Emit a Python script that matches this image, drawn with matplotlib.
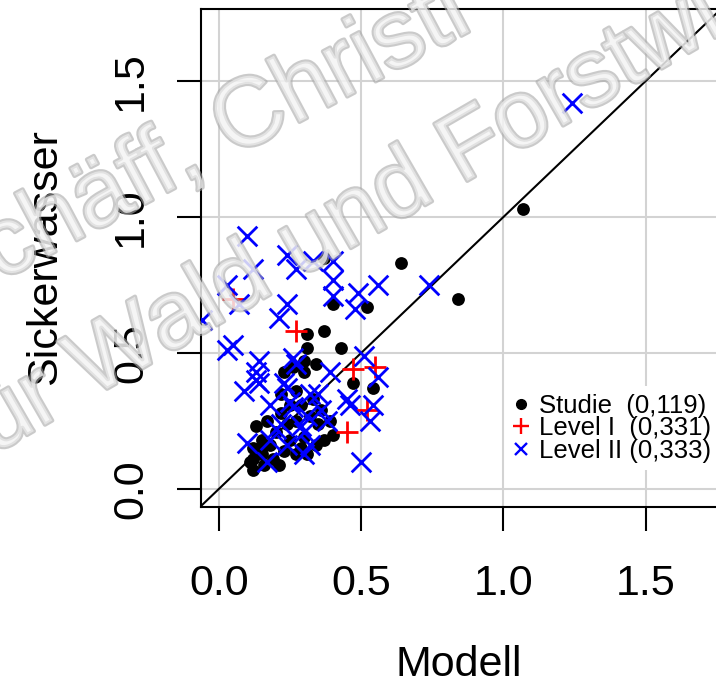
import matplotlib
matplotlib.use("Agg")
import matplotlib.pyplot as plt
import matplotlib.patheffects as pe
from matplotlib.lines import Line2D

plt.rcParams['font.family'] = ['Liberation Sans', 'DejaVu Sans']

# Studie
studie_x = [1.07, 0.64, 0.84, 0.37, 0.40, 0.52, 0.31, 0.37, 0.43, 0.31, 0.30, 0.34, 0.23,
            0.30, 0.26, 0.47, 0.54, 0.40, 0.13, 0.12, 0.12, 0.12, 0.22, 0.22, 0.20, 0.18,
            0.19, 0.24, 0.27, 0.25, 0.29, 0.31, 0.27, 0.30, 0.32, 0.35, 0.37, 0.34, 0.15,
            0.15, 0.23, 0.21, 0.16, 0.11, 0.36, 0.39, 0.29, 0.25, 0.33, 0.14, 0.17, 0.27]
studie_y = [1.03, 0.83, 0.70, 0.85, 0.68, 0.67, 0.57, 0.58, 0.52, 0.52, 0.47, 0.46, 0.43,
            0.43, 0.45, 0.39, 0.37, 0.20, 0.23, 0.15, 0.11, 0.07, 0.35, 0.28, 0.21, 0.16,
            0.11, 0.24, 0.25, 0.18, 0.15, 0.13, 0.13, 0.19, 0.27, 0.24, 0.18, 0.16, 0.13,
            0.18, 0.14, 0.09, 0.09, 0.10, 0.29, 0.25, 0.31, 0.31, 0.33, 0.14, 0.25, 0.36]

# Level I
lvl1_x = [0.05, 0.27, 0.47, 0.55, 0.52, 0.45]
lvl1_y = [0.70, 0.58, 0.44, 0.45, 0.29, 0.21]

# Level II
lvl2_x = [1.24, 0.74, -0.06, 0.10, 0.12, 0.03, 0.07, 0.05, 0.03, 0.14, 0.13, 0.13, 0.09,
          0.18, 0.10, 0.21, 0.24, 0.24, 0.27, 0.33, 0.40, 0.40, 0.40, 0.49, 0.48, 0.56,
          0.26, 0.27, 0.51, 0.23, 0.24, 0.14, 0.32, 0.35, 0.39, 0.56, 0.45, 0.46, 0.54,
          0.53, 0.38, 0.31, 0.22, 0.20, 0.17, 0.24, 0.30, 0.30, 0.50, 0.25, 0.29, 0.36,
          0.32, 0.18, 0.26]
lvl2_y = [1.42, 0.75, 0.62, 0.93, 0.81, 0.75, 0.68, 0.53, 0.51, 0.47, 0.43, 0.40, 0.36,
          0.31, 0.17, 0.63, 0.68, 0.86, 0.81, 0.84, 0.84, 0.77, 0.71, 0.72, 0.66, 0.75,
          0.48, 0.46, 0.49, 0.39, 0.37, 0.39, 0.35, 0.35, 0.43, 0.41, 0.33, 0.31, 0.31,
          0.25, 0.25, 0.27, 0.24, 0.22, 0.10, 0.16, 0.21, 0.13, 0.10, 0.32, 0.23, 0.29,
          0.16, 0.18, 0.30]

ticks = [0.0, 0.5, 1.0, 1.5]
tick_labels = ["0.0", "0.5", "1.0", "1.5"]
legend_labels = ["Studie  (0,119)", "Level I  (0,331)", "Level II (0,333)"]

W, H = 716, 685
fig = plt.figure(figsize=(W / 100, H / 100), dpi=100)
ax = fig.add_axes([201 / W, (H - 506.6) / H, 521 / W, 498.1 / H])
ax.set_xlim(-0.0626, 1.768)
ax.set_ylim(-0.0647, 1.7665)

ax.grid(True, color='#d3d3d3', lw=1.5, zorder=0)
ax.set_axisbelow(True)
ax.axline((0, 0), slope=1, color='black', lw=1.5, zorder=2)

ax.scatter(studie_x, studie_y, s=85, c='black', marker='o', lw=0, zorder=3)
ax.scatter(lvl1_x, lvl1_y, s=230, c='red', marker='+', lw=2, zorder=4)
ax.scatter(lvl2_x, lvl2_y, s=200, c='blue', marker='x', lw=2, zorder=5)

ax.set_xticks(ticks, tick_labels)
ax.set_yticks(ticks, tick_labels)
ax.tick_params(direction='out', length=17, width=1.5, labelsize=31)
ax.tick_params(axis='x', pad=24)
ax.tick_params(axis='y', pad=19)
for lbl in ax.get_yticklabels():
    lbl.set_rotation(90)
    lbl.set_va('center')
for sp in ax.spines.values():
    sp.set_linewidth(1.5)

ax.set_xlabel("Modell", fontsize=31)
ax.xaxis.set_label_coords((459 - 201) / 521, (506.6 - 665) / 498.1)
ax.xaxis.label.set_va('center')
ax.set_ylabel("Sickerwasser", fontsize=31)
ax.yaxis.set_label_coords((45 - 201) / 521, 0.5)
ax.yaxis.label.set_va('center')
ax.yaxis.label.set_ha('center')

handles = [
    Line2D([], [], ls='none', marker='o', color='black', markersize=7),
    Line2D([], [], ls='none', marker='+', color='red', markersize=11, mew=1.7),
    Line2D([], [], ls='none', marker='x', color='blue', markersize=8, mew=1.7),
]
leg = ax.legend(handles, legend_labels, loc='upper left',
                bbox_to_anchor=(505 / W, 1 - 386 / H), bbox_transform=fig.transFigure,
                fontsize=18.5, frameon=True, facecolor='white', edgecolor='none',
                framealpha=1, fancybox=False, borderaxespad=0, borderpad=0.3,
                handlelength=0.62, handletextpad=0.42, labelspacing=-0.06)
leg.set_zorder(6)

# watermark
wm = [pe.Stroke(linewidth=3, foreground='#a8a8a8'), pe.Normal()]
fig.text(-58 / W, 1 - 312 / H, "Schäff, Christi", fontsize=70, rotation=28,
         ha='left', va='baseline', rotation_mode='anchor', color='#f4f4f4',
         alpha=0.6, path_effects=wm, zorder=10)
fig.text(-30 / W, 1 - 468 / H, "für Wald und Forstwi", fontsize=69, rotation=30,
         ha='left', va='baseline', rotation_mode='anchor', color='#f4f4f4',
         alpha=0.6, path_effects=wm, zorder=10)

fig.savefig("out.png", dpi=100)
